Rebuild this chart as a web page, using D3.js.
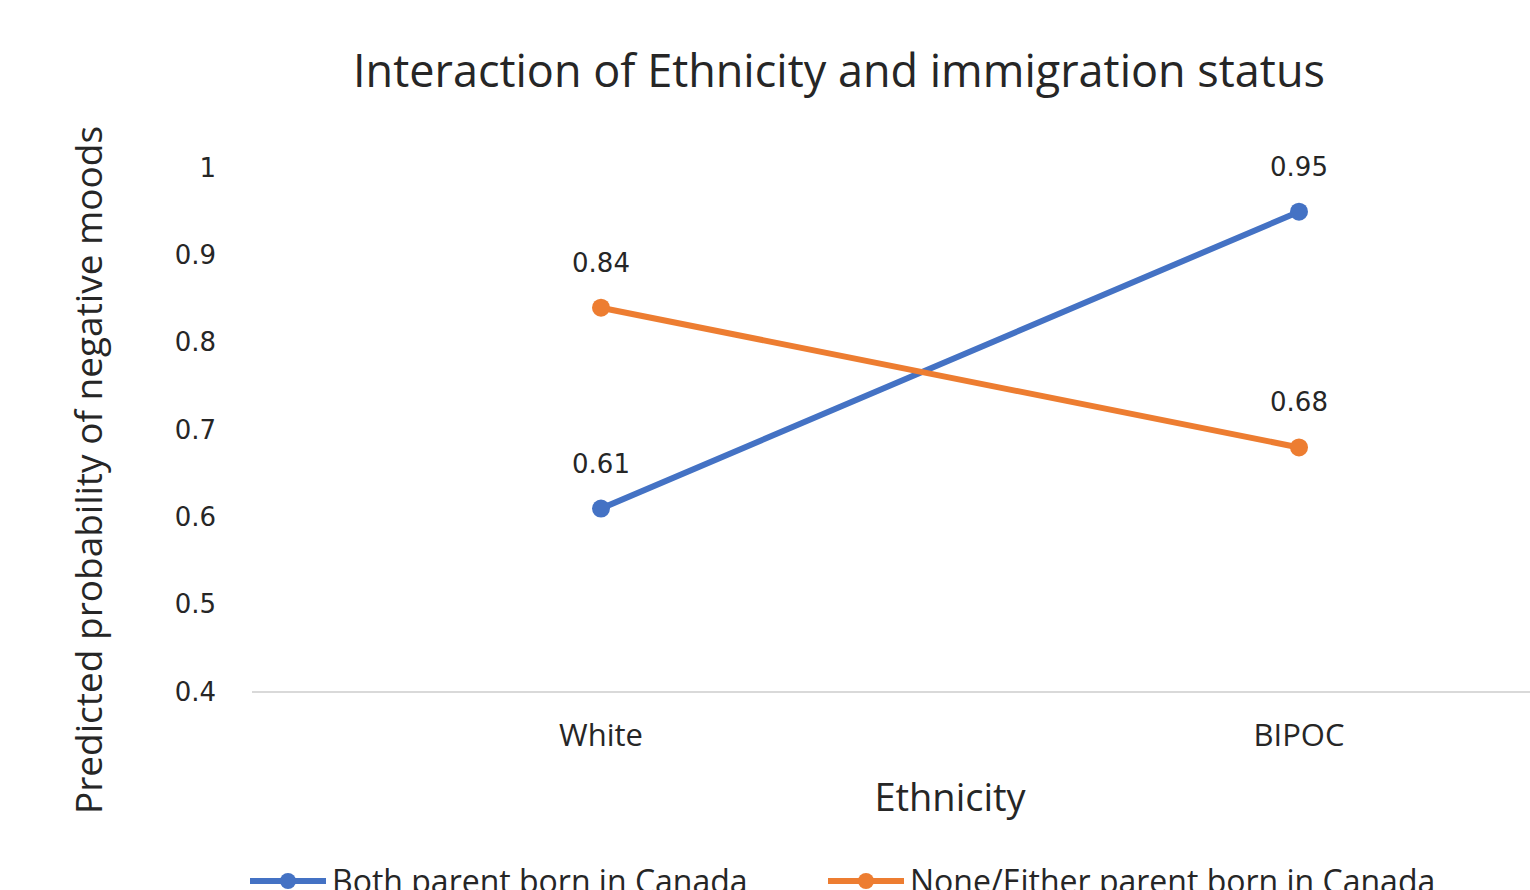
<!DOCTYPE html>
<html lang="en">
<head>
    <meta charset="UTF-8">
    <title>Interaction of Ethnicity and immigration status</title>
    <style>
        body { margin: 0; background: #fff; }
        svg text { font-family: "Open Sans", "Noto Sans", sans-serif; fill: #262626; }
        svg text.num { font-family: "DejaVu Sans", sans-serif; }
    </style>
</head>
<body>
    <div id="my_dataviz"></div>

    <script src="https://d3js.org/d3.v7.min.js"></script>
    <script>

        // data
        const categories = ["White", "BIPOC"];
        const seriesNames = ["Both parent born in Canada", "None/Either parent born in Canada"];
        const bothBorn = [0.61, 0.95];
        const noneEither = [0.84, 0.68];
        const yTicks = [0.4, 0.5, 0.6, 0.7, 0.8, 0.9, 1];
        const colors = ["#4472C4", "#ED7D31"];

        const W = 1530, H = 890;

        const svg = d3.select("#my_dataviz")
            .append("svg")
            .attr("width", W)
            .attr("height", H);

        // scales
        const x = d3.scaleBand()
            .domain(categories)
            .range([252, 1648]);

        const y = d3.scaleLinear()
            .domain([0.4, 1])
            .range([692, 168]);

        // title
        svg.append("text")
            .attr("x", 839)
            .attr("y", 87)
            .attr("text-anchor", "middle")
            .style("font-size", "45px")
            .text("Interaction of Ethnicity and immigration status");

        // y axis (labels only)
        const yAxis = svg.append("g")
            .attr("transform", "translate(252,0)")
            .call(d3.axisLeft(y).tickValues(yTicks).tickSize(0).tickPadding(36)
                .tickFormat(d => d === 1 ? "1" : d3.format(".1f")(d)));
        yAxis.select(".domain").remove();
        yAxis.selectAll("text")
            .attr("class", "num")
            .style("font-size", "26px")
            .attr("fill", "#262626");

        // baseline
        svg.append("line")
            .attr("x1", 252).attr("x2", 1648)
            .attr("y1", y(0.4)).attr("y2", y(0.4))
            .attr("stroke", "#d9d9d9")
            .attr("stroke-width", 2);

        // x axis labels
        const xAxis = svg.append("g")
            .attr("transform", `translate(0, ${y(0.4)})`)
            .call(d3.axisBottom(x).tickSize(0).tickPadding(32));
        xAxis.select(".domain").remove();
        xAxis.selectAll("text")
            .style("font-size", "31px")
            .attr("fill", "#262626");

        // axis titles
        svg.append("text")
            .attr("x", 950)
            .attr("y", 811)
            .attr("text-anchor", "middle")
            .style("font-size", "38px")
            .text("Ethnicity");

        svg.append("text")
            .attr("transform", "translate(102, 470) rotate(-90)")
            .attr("text-anchor", "middle")
            .style("font-size", "37px")
            .text("Predicted probability of negative moods");

        // lines
        const series = [bothBorn, noneEither];
        const line = d3.line()
            .x((d, i) => x(categories[i]) + x.bandwidth() / 2)
            .y(d => y(d));

        series.forEach(function (vals, s) {
            const g = svg.append("g");
            g.append("path")
                .datum(vals)
                .attr("d", line)
                .attr("fill", "none")
                .attr("stroke", colors[s])
                .attr("stroke-width", 6)
                .attr("stroke-linecap", "round");

            g.selectAll("circle")
                .data(vals)
                .join("circle")
                .attr("cx", (d, i) => x(categories[i]) + x.bandwidth() / 2)
                .attr("cy", d => y(d))
                .attr("r", 9)
                .attr("fill", colors[s]);

            g.selectAll(".num")
                .data(vals)
                .join("text")
                .attr("class", "num")
                .attr("x", (d, i) => x(categories[i]) + x.bandwidth() / 2)
                .attr("y", d => y(d) - 36)
                .attr("text-anchor", "middle")
                .style("font-size", "26px")
                .text(d => d3.format(".2f")(d));
        });

        // legend
        const legendX = [250, 828];
        const legend = svg.append("g");
        seriesNames.forEach(function (name, s) {
            const lg = legend.append("g")
                .attr("transform", `translate(${legendX[s]}, 881)`);
            lg.append("line")
                .attr("x1", 0).attr("x2", 76)
                .attr("stroke", colors[s])
                .attr("stroke-width", 6);
            lg.append("circle")
                .attr("cx", 38)
                .attr("r", 8)
                .attr("fill", colors[s]);
            lg.append("text")
                .attr("x", 82)
                .attr("y", 12)
                .style("font-size", "32px")
                .text(name);
        });
    </script>
</body>
</html>
